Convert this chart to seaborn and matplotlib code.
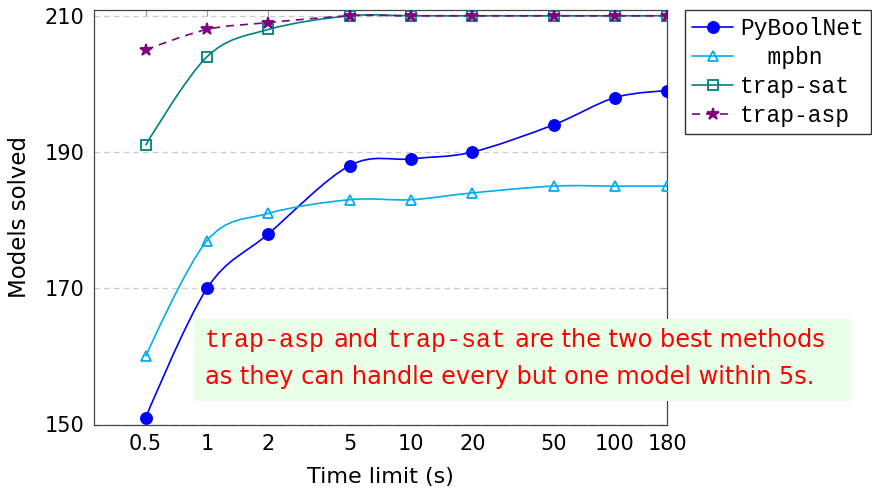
import numpy as np
import pandas as pd
import seaborn as sns
import matplotlib
matplotlib.use("Agg")
import matplotlib.pyplot as plt
from matplotlib.path import Path
from matplotlib.patches import PathPatch, Rectangle
from matplotlib.lines import Line2D
from matplotlib.ticker import NullLocator
from matplotlib.font_manager import FontProperties

# ---------------- data ----------------
time_limits = [0.5, 1, 2, 5, 10, 20, 50, 100, 180]
x_tick_labels = ["0.5", "1", "2", "5", "10", "20", "50", "100", "180"]
y_ticks = [150, 170, 190, 210]
pyboolnet = [151, 170, 178, 188, 189, 190, 194, 198, 199]
mpbn = [160, 177, 181, 183, 183, 184, 185, 185, 185]
trap_sat = [191, 204, 208, 210, 210, 210, 210, 210, 210]
trap_asp = [205, 208, 209, 210, 210, 210, 210, 210, 210]
method_names = ["PyBoolNet", "mpbn", "trap-sat", "trap-asp"]
legend_labels = ["PyBoolNet", "  mpbn", "trap-sat", "trap-asp"]

# ---------------- styles ----------------
styles = {
    "PyBoolNet": dict(color="#0000ff", marker="o", ms=8, mfc="#0000ff", ls="-"),
    "mpbn": dict(color="#00aeef", marker="^", ms=7, mfc="none", ls="-"),
    "trap-sat": dict(color="#008080", marker="s", ms=7.5, mfc="none", ls="-"),
    "trap-asp": dict(color="#800080", marker="*", ms=9, mfc="#800080", ls=(0, (4.8, 3.6))),
}
LW = 1.2

df = pd.DataFrame({
    "time": time_limits * 4,
    "solved": pyboolnet + mpbn + trap_sat + trap_asp,
    "method": sum([[m] * len(time_limits) for m in method_names], []),
})

sns.set_style("white")
plt.rcParams["font.family"] = ["DejaVu Sans"]
plt.rcParams["text.color"] = "black"
plt.rcParams["axes.labelcolor"] = "black"

fig = plt.figure(figsize=(8.72, 4.95), dpi=100)
ax = fig.add_axes([94 / 872, 1 - 424.5 / 495, (667 - 94) / 872, (424.5 - 10) / 495])
ax.set_xscale("log")


def smooth_path(x, y, k=1 / 6):
    lx = np.log10(np.asarray(x, float))
    yy = np.asarray(y, float)
    n = len(lx)
    tx = np.zeros(n)
    ty = np.zeros(n)
    for i in range(1, n - 1):
        tx[i] = lx[i + 1] - lx[i - 1]
        ty[i] = yy[i + 1] - yy[i - 1]
    verts = [(lx[0], yy[0])]
    codes = [Path.MOVETO]
    for i in range(n - 1):
        verts += [(lx[i] + k * tx[i], yy[i] + k * ty[i]),
                  (lx[i + 1] - k * tx[i + 1], yy[i + 1] - k * ty[i + 1]),
                  (lx[i + 1], yy[i + 1])]
        codes += [Path.CURVE4] * 3
    verts = np.array(verts)
    verts[:, 0] = 10 ** verts[:, 0]
    return Path(verts, codes)


for m in method_names:
    st = styles[m]
    sub = df[df["method"] == m]
    ax.add_patch(PathPatch(smooth_path(sub["time"], sub["solved"]), fill=False,
                           edgecolor=st["color"], lw=LW, linestyle=st["ls"], zorder=3,
                           capstyle="butt"))
    sns.lineplot(data=sub, x="time", y="solved", ax=ax, linestyle="none",
                 marker=st["marker"], markersize=st["ms"], color=st["color"],
                 markerfacecolor=st["mfc"], markeredgecolor=st["color"],
                 markeredgewidth=1.3, zorder=4, legend=False)

# axes styling
ax.set_xticks(time_limits)
ax.set_xticklabels(x_tick_labels)
ax.xaxis.set_minor_locator(NullLocator())
ax.set_yticks(y_ticks)
ax.set_axisbelow(True)
ax.yaxis.grid(True, linestyle=(0, (4, 3)), color="#cccccc", lw=1)
ax.xaxis.grid(False)
for s in ax.spines.values():
    s.set_color("#444444")
    s.set_linewidth(0.9)
ax.tick_params(axis="both", which="major", direction="in", length=4.5, width=0.8,
               color="#999999", labelcolor="black", labelsize=15, top=True, right=True,
               pad=7)
ax.set_xlabel("Time limit (s)", fontsize=16, labelpad=9)
ax.set_ylabel("Models solved", fontsize=16.5, labelpad=10)

# legend
handles = [Line2D([0], [0], color=styles[m]["color"], lw=LW, linestyle=styles[m]["ls"],
                  marker=styles[m]["marker"], markersize=styles[m]["ms"],
                  markerfacecolor=styles[m]["mfc"], markeredgecolor=styles[m]["color"],
                  markeredgewidth=1.3) for m in method_names]
leg = fig.legend(handles, legend_labels, loc="upper left",
                 bbox_to_anchor=(685 / 872, 1 - 10 / 495),
                 prop=FontProperties(family="Liberation Mono", size=16.5),
                 frameon=True, fancybox=False, edgecolor="#333333", framealpha=1,
                 borderpad=0.3, handlelength=1.8, handletextpad=0.3,
                 labelspacing=0.26, borderaxespad=0)
leg.get_frame().set_linewidth(1.0)

# annotation box
ax.add_artist(Rectangle((194 / 872, 1 - 401 / 495), (851 - 194) / 872, (401 - 319) / 495,
                        transform=fig.transFigure, facecolor="#e6ffe6",
                        edgecolor="none", zorder=5, clip_on=False))
mono = dict(family="Liberation Mono", size=18)
sans = dict(family="DejaVu Sans", size=17.3)
y1 = 1 - 347 / 495
y2 = 1 - 384 / 495
pieces = [("trap-asp", mono), ("and", sans), ("trap-sat", mono),
          ("are the two best methods", sans)]
prev = ax.text(205 / 872, y1, pieces[0][0], transform=fig.transFigure, color="red",
               va="baseline", ha="left", zorder=6, clip_on=False, **pieces[0][1])
gap = 0.35 * 17.3
for txt, fp in pieces[1:]:
    prev = ax.annotate(txt, xy=(1, y1), xycoords=(prev, fig.transFigure),
                       xytext=(gap, 0), textcoords="offset points", color="red",
                       va="baseline", ha="left", zorder=6, annotation_clip=False, **fp)
ax.text(205 / 872, y2, "as they can handle every but one model within 5s.",
        transform=fig.transFigure, color="red", va="baseline", ha="left", zorder=6,
        clip_on=False, **sans)

ax.set_xlim(0.279, 180)
ax.set_ylim(150, 210.85)

fig.savefig("out.png", dpi=100)
